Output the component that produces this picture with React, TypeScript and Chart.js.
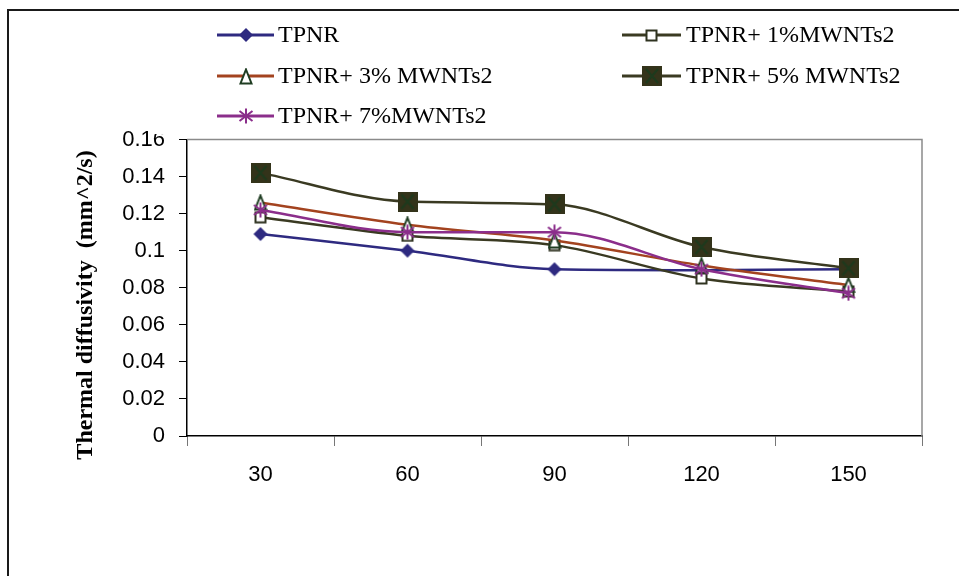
import React, { useEffect, useRef } from "react";
import { Chart, registerables } from "chart.js";

Chart.register(...registerables);

// ---- data ----
const categories = ["30", "60", "90", "120", "150"];
const seriesNames = [
  "TPNR",
  "TPNR+ 1%MWNTs2",
  "TPNR+ 3% MWNTs2",
  "TPNR+ 5% MWNTs2",
  "TPNR+ 7%MWNTs2",
];
const tpnr = [0.109, 0.1, 0.09, 0.0895, 0.09];
const mwnt1 = [0.118, 0.108, 0.103, 0.085, 0.078];
const mwnt3 = [0.126, 0.114, 0.1055, 0.092, 0.0815];
const mwnt5 = [0.142, 0.1265, 0.125, 0.102, 0.0905];
const mwnt7 = [0.122, 0.11, 0.11, 0.09, 0.077];
const yMin = 0;
const yMax = 0.16;
const yStep = 0.02;
const yAxisTitle = "Thermal diffusivity  (mm^2/s)";

const colors = ["#2e2a80", "#3a3a22", "#a3431f", "#3a3a22", "#8b2e8b"];

function makeCanvas(w: number, h: number, draw: (c: CanvasRenderingContext2D) => void) {
  const c = document.createElement("canvas");
  c.width = w;
  c.height = h;
  const ctx = c.getContext("2d")!;
  draw(ctx);
  return c;
}

function makeMarkers() {
  const diamond = makeCanvas(16, 16, (c) => {
    c.fillStyle = "#2e2a80";
    c.beginPath();
    c.moveTo(8, 1);
    c.lineTo(15, 8);
    c.lineTo(8, 15);
    c.lineTo(1, 8);
    c.closePath();
    c.fill();
  });
  const openSquare = makeCanvas(13, 13, (c) => {
    c.fillStyle = "#fff";
    c.fillRect(1.5, 1.5, 10, 10);
    c.strokeStyle = "#2f3320";
    c.lineWidth = 2;
    c.strokeRect(1.5, 1.5, 10, 10);
  });
  const triangle = makeCanvas(14, 17, (c) => {
    c.fillStyle = "#fff";
    c.strokeStyle = "#1f3d22";
    c.lineWidth = 2;
    c.beginPath();
    c.moveTo(7, 1.5);
    c.lineTo(12.5, 15.5);
    c.lineTo(1.5, 15.5);
    c.closePath();
    c.fill();
    c.stroke();
  });
  const bigSquare = makeCanvas(20, 20, (c) => {
    c.fillStyle = "#33331a";
    c.fillRect(0, 0, 20, 20);
    c.strokeStyle = "#1d3a1d";
    c.lineWidth = 2;
    c.beginPath();
    c.moveTo(4, 3);
    c.lineTo(16, 17);
    c.moveTo(16, 3);
    c.lineTo(4, 17);
    c.stroke();
  });
  const star = makeCanvas(16, 16, (c) => {
    c.strokeStyle = "#8b2e8b";
    c.lineWidth = 2;
    c.beginPath();
    c.moveTo(8, 0.5);
    c.lineTo(8, 15.5);
    c.moveTo(1.5, 3);
    c.lineTo(14.5, 13);
    c.moveTo(14.5, 3);
    c.lineTo(1.5, 13);
    c.stroke();
  });
  return [diamond, openSquare, triangle, bigSquare, star];
}

export default function App() {
  const ref = useRef<HTMLCanvasElement | null>(null);

  useEffect(() => {
    if (!ref.current) return;
    const markers = makeMarkers();
    const values = [tpnr, mwnt1, mwnt3, mwnt5, mwnt7];

    const decorPlugin = {
      id: "decor",
      beforeDatasetsDraw(chart: any) {
        const { ctx, chartArea } = chart;
        ctx.save();
        ctx.strokeStyle = "#8a8a8a";
        ctx.lineWidth = 1.5;
        ctx.beginPath();
        ctx.moveTo(chartArea.left, chartArea.top);
        ctx.lineTo(chartArea.right, chartArea.top);
        ctx.lineTo(chartArea.right, chartArea.bottom);
        ctx.stroke();
        ctx.restore();
      },
      afterDraw(chart: any) {
        const ctx = chart.ctx as CanvasRenderingContext2D;
        ctx.save();
        // legend white box (overlaps the top tick label)
        ctx.fillStyle = "#fff";
        ctx.fillRect(152, 12, 770, 122);

        // legend
        const rows = [35, 76, 116];
        const cols = [
          { x1: 217, x2: 274, tx: 278 },
          { x1: 622, x2: 681, tx: 686 },
        ];
        const slots = [
          [0, 0],
          [1, 0],
          [0, 1],
          [1, 1],
          [0, 2],
        ];
        ctx.font = '24px "Liberation Serif"';
        ctx.textBaseline = "middle";
        ctx.textAlign = "left";
        seriesNames.forEach((name, i) => {
          const col = cols[slots[i][0]];
          const y = rows[slots[i][1]];
          ctx.strokeStyle = colors[i];
          ctx.lineWidth = 3;
          ctx.beginPath();
          ctx.moveTo(col.x1, y);
          ctx.lineTo(col.x2, y);
          ctx.stroke();
          const m = markers[i];
          const cx = (col.x1 + col.x2) / 2;
          ctx.drawImage(m, Math.round(cx - m.width / 2), Math.round(y - m.height / 2));
          ctx.fillStyle = "#000";
          ctx.fillText(name, col.tx, y + 1);
        });

        // y-axis title
        ctx.save();
        ctx.translate(86, 305);
        ctx.rotate(-Math.PI / 2);
        ctx.font = 'bold 24px "Liberation Serif"';
        ctx.textAlign = "center";
        ctx.textBaseline = "middle";
        ctx.fillStyle = "#000";
        ctx.fillText(yAxisTitle, 0, 0);
        ctx.restore();

        // outer frame
        ctx.strokeStyle = "#1a1a1a";
        ctx.lineWidth = 2;
        ctx.beginPath();
        ctx.moveTo(8, 576);
        ctx.lineTo(8, 10);
        ctx.lineTo(959, 10);
        ctx.stroke();
        ctx.restore();
      },
    };

    const chart = new Chart(ref.current, {
      type: "line",
      data: {
        labels: categories,
        datasets: seriesNames.map((name, i) => ({
          label: name,
          data: values[i],
          borderColor: colors[i],
          backgroundColor: colors[i],
          borderWidth: 2.5,
          cubicInterpolationMode: "monotone" as const,
          pointStyle: markers[i] as any,
          pointRadius: 8,
          order: 5 - i,
          fill: false,
        })),
      },
      options: {
        animation: false,
        responsive: false,
        events: [],
        layout: { padding: { top: 139.5, right: 37, bottom: 0, left: 0 } },
        plugins: {
          legend: { display: false },
          tooltip: { enabled: false },
        },
        scales: {
          x: {
            type: "category",
            offset: true,
            grid: {
              offset: true,
              drawOnChartArea: false,
              tickLength: 10,
              color: "#777",
            },
            border: { color: "#000", width: 1.5 },
            ticks: {
              color: "#000",
              font: { family: "Liberation Sans", size: 22 },
              padding: 16,
              maxRotation: 0,
              autoSkip: false,
            },
            afterFit: (s: any) => {
              s.height = 140;
            },
          },
          y: {
            min: yMin,
            max: yMax,
            grid: { drawOnChartArea: false, tickLength: 8, color: "#000" },
            border: { color: "#000", width: 1.5 },
            ticks: {
              stepSize: yStep,
              color: "#000",
              font: { family: "Liberation Sans", size: 22 },
              padding: 14,
              callback: (v: any) => String(+Number(v).toFixed(2)),
            },
            afterFit: (s: any) => {
              s.width = 187;
            },
          },
        },
      },
      plugins: [decorPlugin],
    });
    return () => chart.destroy();
  }, []);

  return (
    <div
      style={{
        position: "fixed",
        left: 0,
        top: 0,
        width: 959,
        height: 576,
        background: "#fff",
      }}
    >
      <canvas ref={ref} width={959} height={576} />
    </div>
  );
}
